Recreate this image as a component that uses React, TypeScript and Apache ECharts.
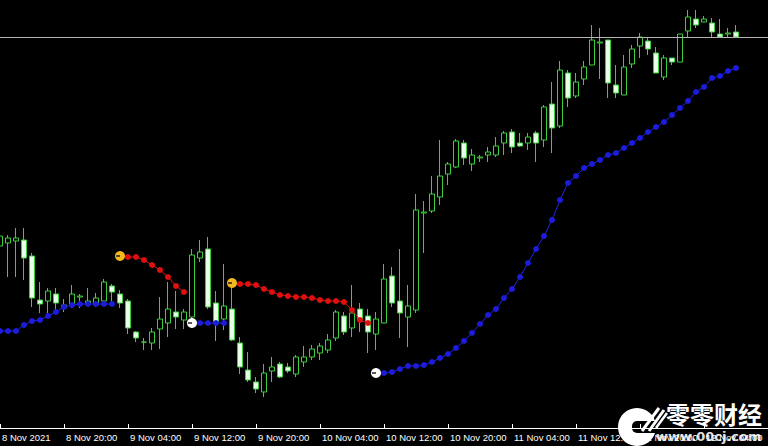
import React, { useEffect, useRef } from "react";
import * as echarts from "echarts";

// Hourly bars from 8 Nov 2021 12:00 (price in points; axis hidden as in the reference)
const OPEN = [
  182, 185, 187, 188, 172, 128, 127, 134, 123, 123,
  131, 124, 123, 127, 142, 134, 127, 96, 86, 85,
  99, 105, 116, 108, 111, 170, 179, 125, 109, 119,
  85, 58, 46, 36, 57, 64, 61, 54, 66, 71,
  75, 78, 90, 112, 100, 119, 112, 94, 105, 152,
  127, 111, 118, 215, 217, 231, 254, 261, 285, 264,
  270, 273, 273, 285, 296, 285, 285, 295, 288, 324,
  302, 355, 332, 349, 363, 385, 388, 343, 333, 364,
  382, 387, 375, 351, 370, 366, 397, 409, 406, 405,
  394, 394, 396,
];
const CLOSE = [
  192, 190, 190, 170, 130, 124, 137, 125, 120, 134,
  132, 127, 130, 146, 136, 125, 100, 90, 86, 96,
  109, 119, 111, 116, 173, 176, 121, 106, 122, 88,
  61, 48, 39, 55, 61, 51, 57, 71, 71, 79,
  82, 88, 116, 96, 115, 108, 96, 109, 149, 125,
  115, 122, 218, 216, 234, 252, 264, 287, 270, 273,
  271, 276, 282, 295, 281, 282, 291, 285, 321, 300,
  358, 330, 346, 361, 388, 386, 345, 335, 361, 379,
  391, 379, 355, 370, 366, 394, 411, 403, 409, 396,
  391, 395, 391,
];
const LOW = [
  166, 151, 151, 148, 121, 115, 115, 116, 116, 120,
  120, 123, 121, 126, 123, 120, 94, 86, 78, 78,
  79, 91, 99, 99, 108, 166, 119, 87, 98, 87,
  54, 46, 35, 31, 46, 50, 55, 51, 61, 68,
  68, 75, 87, 93, 91, 96, 75, 78, 105, 121,
  90, 81, 115, 175, 215, 223, 243, 260, 263, 257,
  266, 266, 271, 273, 275, 281, 278, 266, 281, 275,
  300, 321, 330, 343, 363, 349, 330, 330, 333, 360,
  370, 373, 355, 348, 363, 366, 391, 400, 406, 391,
  391, 391, 391,
];
const HIGH = [
  196, 193, 200, 200, 175, 146, 140, 140, 129, 143,
  134, 140, 135, 149, 144, 138, 129, 97, 90, 100,
  131, 146, 137, 119, 179, 188, 191, 137, 164, 145,
  91, 76, 51, 64, 71, 66, 65, 73, 82, 83,
  85, 94, 118, 116, 143, 125, 119, 116, 164, 161,
  179, 143, 234, 227, 252, 288, 266, 289, 288, 279,
  273, 281, 291, 297, 299, 295, 295, 297, 323, 346,
  367, 358, 355, 367, 403, 400, 388, 363, 373, 383,
  395, 391, 381, 373, 370, 394, 418, 418, 412, 410,
  409, 400, 403,
];

const N = null;
// Blue trailing (support) line
const BLUE: (number | null)[] = [
  97, 97, 97, 103, 107, 108, 112, 116, 121, 123, 124, 124, 124, 124, 124,
  N, N, N, N, N, N, N, N, N,
  105, 105, 105, 105, 105,
  N, N, N, N, N, N, N, N, N, N, N, N, N, N, N, N, N, N,
  55, 55, 56, 59, 62, 62, 63, 66, 70, 74, 80, 87, 95, 104, 113, 119,
  130, 139, 151, 165, 179, 192, 208, 228, 245, 252, 260, 264, 268, 273,
  275, 280, 285, 290, 296, 301, 306, 313, 320, 327, 336, 341, 350, 352,
  357, 360,
];
// Red trailing (resistance) line
const RED: (number | null)[] = [
  N, N, N, N, N, N, N, N, N, N, N, N, N, N, N,
  172, 171, 171, 168, 163, 158, 151, 142, 136,
  N, N, N, N, N,
  145, 144, 144, 143, 139, 136, 133, 132, 131, 131, 130, 128, 127, 127, 126, 118, 108, 105,
  N, N, N, N, N, N, N, N, N, N, N, N, N, N, N, N, N, N, N, N, N, N, N,
  N, N, N, N, N, N, N, N, N, N, N, N, N, N, N, N, N, N, N, N, N, N, N,
];

const TICK_LABELS = [
  "8 Nov 2021", "8 Nov 20:00", "9 Nov 04:00", "9 Nov 12:00", "9 Nov 20:00",
  "10 Nov 04:00", "10 Nov 12:00", "10 Nov 20:00", "11 Nov 04:00",
  "11 Nov 12:00", "11 Nov 20:00", "12 Nov 04:00",
];
const BARS_PER_TICK = 8;
const SLOTS = 97; // axis slots (bars + empty space on the right)

export default function App() {
  const ref = useRef<HTMLDivElement>(null);
  useEffect(() => {
    if (!ref.current) return;
    const chart = echarts.init(ref.current, undefined, { renderer: "svg" });

    const cats: string[] = [];
    for (let i = 0; i < SLOTS; i++) {
      const t = new Date(Date.UTC(2021, 10, 8, 12 + i));
      cats.push(`${t.getUTCDate()} Nov ${String(t.getUTCHours()).padStart(2, "0")}:00`);
    }
    const candles = OPEN.map((o, i) => [o, CLOSE[i], LOW[i], HIGH[i]]);
    const startOf = (arr: (number | null)[]) =>
      arr.map((v, i) => (v != null && i > 0 && arr[i - 1] == null ? v : null));
    const orange = startOf(RED);
    const white = startOf(BLUE);
    const markerDash = orange.map((v, i) => (v != null ? v : white[i]));
    const green = "#3ccf3c";
    const isTick = (i: number) =>
      i % BARS_PER_TICK === 0 && i / BARS_PER_TICK < TICK_LABELS.length;

    chart.setOption({
      animation: false,
      backgroundColor: "#000000",
      grid: {
        left: -4,
        top: 0,
        width: SLOTS * 8,
        height: 428,
        containLabel: false,
        outerBoundsMode: "none",
      },
      xAxis: {
        type: "category",
        data: cats,
        boundaryGap: true,
        axisLine: { lineStyle: { color: "#ffffff", width: 1 } },
        axisTick: {
          show: true,
          inside: true,
          length: 4,
          alignWithLabel: true,
          interval: (i: number) => isTick(i),
          lineStyle: { color: "#ffffff" },
        },
        axisLabel: {
          interval: (i: number) => isTick(i),
          formatter: (_v: string, i: number) => TICK_LABELS[i / BARS_PER_TICK] ?? "",
          align: "left",
          padding: [0, 0, 0, 2],
          color: "#ffffff",
          fontSize: 9.5,
          fontFamily: "Liberation Sans",
          margin: 4,
          hideOverlap: false,
        },
        splitLine: { show: false },
      },
      yAxis: { type: "value", min: 0, max: 428, show: false, splitLine: { show: false } },
      series: [
        {
          type: "candlestick",
          data: candles,
          barWidth: 5,
          itemStyle: {
            color: "#000000",
            color0: "#e6ffe6",
            borderColor: green,
            borderColor0: green,
            borderColorDoji: green,
            borderWidth: 1,
          },
          markLine: {
            silent: true,
            symbol: "none",
            label: { show: false },
            lineStyle: { color: "#b4b4b4", width: 1, type: "solid" },
            data: [{ yAxis: CLOSE[CLOSE.length - 1] }],
          },
        },
        {
          type: "line",
          data: BLUE,
          symbol: "circle",
          symbolSize: 6,
          showSymbol: true,
          showAllSymbol: true,
          itemStyle: { color: "#1c1cdc" },
          lineStyle: { color: "#2222ee", width: 1 },
          z: 3,
        },
        {
          type: "line",
          data: RED,
          symbol: "circle",
          symbolSize: 6,
          showSymbol: true,
          showAllSymbol: true,
          itemStyle: { color: "#e01010" },
          lineStyle: { color: "#e01010", width: 1 },
          z: 3,
        },
        {
          type: "scatter",
          data: orange,
          symbol: "circle",
          symbolSize: 10,
          itemStyle: { color: "#f5b820", opacity: 1 },
          z: 4,
        },
        {
          type: "scatter",
          data: white,
          symbol: "circle",
          symbolSize: 10,
          itemStyle: { color: "#ffffff", opacity: 1 },
          z: 4,
        },
        {
          type: "scatter",
          data: markerDash,
          symbol: "rect",
          symbolSize: [4, 1.5],
          symbolOffset: [-2, 0],
          itemStyle: { color: "#202020", opacity: 1 },
          z: 5,
        },
      ],
      graphic: [
        {
          type: "group",
          z: 100,
          children: [
            { type: "circle", shape: { cx: 637, cy: 427, r: 19 }, style: { fill: "#ffffff" } },
            { type: "rect", shape: { x: 632, y: 421, width: 30, height: 12, r: 5 }, style: { fill: "#000000" } },
            { type: "line", shape: { x1: 642, y1: 431, x2: 659, y2: 408 }, style: { stroke: "#ffffff", lineWidth: 3 } },
            { type: "line", shape: { x1: 649, y1: 431, x2: 664, y2: 410 }, style: { stroke: "#ffffff", lineWidth: 3 } },
            { type: "line", shape: { x1: 656, y1: 428, x2: 667, y2: 413 }, style: { stroke: "#ffffff", lineWidth: 2.5 } },
            {
              type: "text",
              x: 666,
              y: 401,
              style: {
                text: "零零财经",
                fill: "#ffffff",
                fontSize: 24,
                fontWeight: "bold",
                fontFamily: "Noto Sans CJK SC",
              },
            },
            {
              type: "text",
              x: 656,
              y: 430,
              style: {
                text: "www.00cj.com",
                fill: "rgba(255,255,255,0.9)",
                fontSize: 13,
                fontWeight: "bold",
                fontFamily: "DejaVu Sans",
              },
            },
          ],
        },
      ],
    });
    return () => chart.dispose();
  }, []);

  return (
    <div
      ref={ref}
      style={{ position: "absolute", left: 0, top: 0, width: 768, height: 446, background: "#000" }}
    />
  );
}
